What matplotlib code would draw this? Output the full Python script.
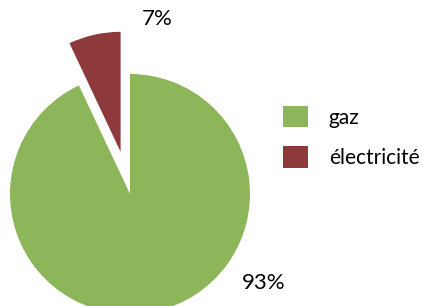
import matplotlib.pyplot as plt

# données
labels = ['gaz', 'électricité']
values = [93, 7]
colors = ['#8DB65A', '#8E3A3D']

radius = 120
explode = [0, 0.36 * radius]

plt.rcParams['font.family'] = ['Lato', 'DejaVu Sans']

fig = plt.figure(figsize=(4.23, 3.06), dpi=100)
ax = fig.add_axes([0, 0, 1, 1])

wedges, _ = ax.pie(values, colors=colors, explode=explode, startangle=90,
                   counterclock=False, center=(130, 112), radius=radius,
                   frame=True)
ax.set_xlim(0, 423)
ax.set_ylim(0, 306)
ax.axis('off')

# étiquettes de pourcentage
ax.text(157, 287, '%d%%' % values[1], ha='center', va='center', fontsize=16)
ax.text(264, 23, '%d%%' % values[0], ha='center', va='center', fontsize=16)

ax.legend(wedges, labels, loc='upper left', bbox_to_anchor=(283 / 423, 1 - 106 / 306),
          frameon=False, fontsize=15, handlelength=1.2, handleheight=1.2,
          handletextpad=1.0, labelspacing=0.9, borderaxespad=0, borderpad=0)

plt.savefig('out.png', dpi=100)
